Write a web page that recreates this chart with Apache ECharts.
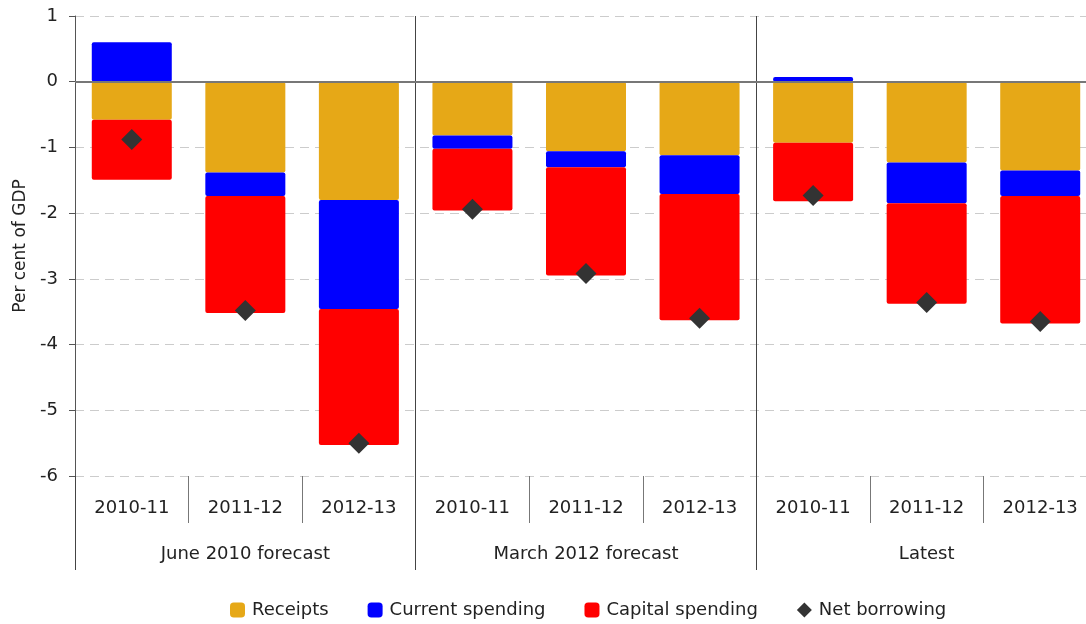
<!DOCTYPE html>
<html>
<head>
<meta charset="utf-8">
<script src="https://cdn.jsdelivr.net/npm/echarts@6/dist/echarts.min.js"></script>
<style>
  html, body { margin: 0; padding: 0; background: #fff; overflow: hidden; }
  /* the original plot runs a little past the right edge of the picture */
  #chart { width: 1097px; height: 624px; }
</style>
</head>
<body>
<div id="chart"></div>
<script>
// data
var years = ['2010-11', '2011-12', '2012-13', '2010-11', '2011-12', '2012-13', '2010-11', '2011-12', '2012-13'];
var groups = ['June 2010 forecast', 'March 2012 forecast', 'Latest'];
var receipts = [-0.58, -1.38, -1.80, -0.82, -1.06, -1.12, -0.93, -1.23, -1.35];
var currentSpending = [0.60, -0.36, -1.66, -0.20, -0.24, -0.59, 0.07, -0.62, -0.39];
var capitalSpending = [-0.91, -1.78, -2.07, -0.94, -1.65, -1.92, -0.89, -1.53, -1.94];
var netBorrowing = [-0.88, -3.48, -5.50, -1.94, -2.92, -3.60, -1.73, -3.36, -3.65];

var font = 'DejaVu Sans';
var txt = '#222';

var chart = echarts.init(document.getElementById('chart'));

var barBase = {
    type: 'bar',
    stack: 'total',
    barWidth: 80,
    xAxisIndex: 0
};

chart.setOption({
    animation: false,
    textStyle: { fontFamily: font },
    grid: { left: 75, top: 16, right: 0, bottom: 148 },
    legend: {
        bottom: 0,
        left: 225,
        itemWidth: 15,
        itemHeight: 15,
        itemGap: 39,
        textStyle: { fontFamily: font, fontSize: 18, color: txt, padding: [0, 0, 0, 2] },
        data: [
            { name: 'Receipts', icon: 'roundRect' },
            { name: 'Current spending', icon: 'roundRect' },
            { name: 'Capital spending', icon: 'roundRect' },
            { name: 'Net borrowing', icon: 'diamond', itemStyle: { color: '#333' } }
        ]
    },
    xAxis: [
        {
            type: 'category',
            data: years,
            position: 'bottom',
            axisLine: { show: false, onZero: false },
            axisTick: { show: true, length: 47, lineStyle: { color: '#777' } },
            axisLabel: { margin: 23, fontSize: 18, color: txt, fontFamily: font },
            splitLine: { show: false }
        },
        {
            // group labels and the long separators between groups
            type: 'category',
            data: groups,
            position: 'bottom',
            axisLine: { show: false, onZero: false },
            axisTick: { show: true, length: 94, lineStyle: { color: '#444' } },
            axisLabel: { margin: 69, fontSize: 18, color: txt, fontFamily: font },
            splitLine: { show: true, lineStyle: { color: '#444', width: 1 } }
        }
    ],
    yAxis: {
        type: 'value',
        min: -6,
        max: 1,
        interval: 1,
        name: 'Per cent of GDP',
        nameLocation: 'middle',
        nameGap: 40,
        nameTextStyle: { fontSize: 17, color: txt, fontFamily: font },
        axisLine: { show: true, lineStyle: { color: '#555' } },
        axisTick: { show: true, length: 6, lineStyle: { color: '#555' } },
        axisLabel: { margin: 17, fontSize: 18, color: txt, fontFamily: font },
        splitLine: { show: true, lineStyle: { color: '#ccc', type: [9, 6] } }
    },
    series: [
        Object.assign({}, barBase, {
            name: 'Receipts',
            data: receipts,
            itemStyle: { color: '#E6A817', borderRadius: 2 },
            markLine: {
                silent: true,
                symbol: 'none',
                label: { show: false },
                lineStyle: { color: '#777', type: 'solid', width: 2 },
                data: [{ yAxis: 0 }]
            }
        }),
        Object.assign({}, barBase, {
            name: 'Current spending',
            data: currentSpending,
            itemStyle: { color: '#0000FF', borderRadius: 2 }
        }),
        Object.assign({}, barBase, {
            name: 'Capital spending',
            data: capitalSpending,
            itemStyle: { color: '#FF0000', borderRadius: 2 }
        }),
        {
            name: 'Net borrowing',
            type: 'scatter',
            xAxisIndex: 0,
            symbol: 'diamond',
            symbolSize: 21,
            data: netBorrowing,
            itemStyle: { color: '#333333', opacity: 1 },
            z: 5
        }
    ]
});
</script>
</body>
</html>
